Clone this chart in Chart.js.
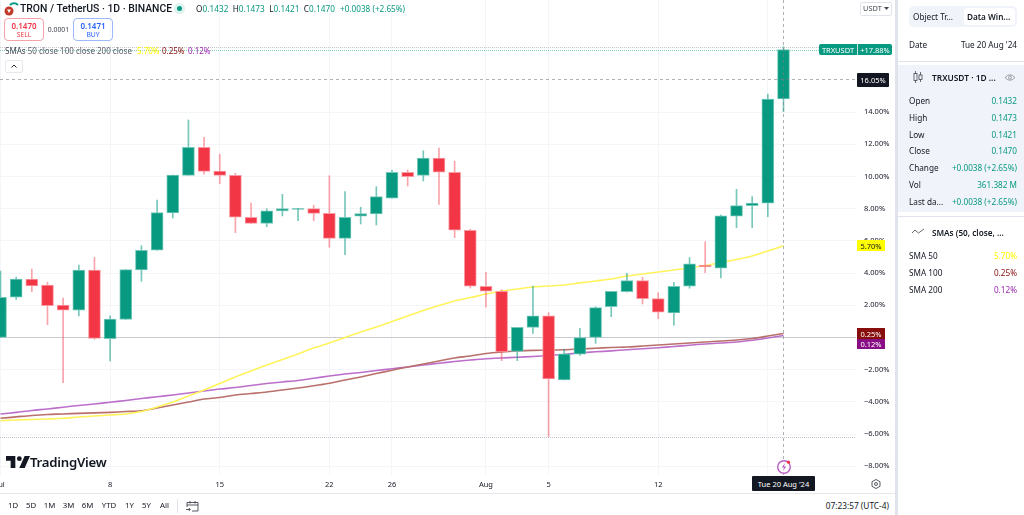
<!DOCTYPE html>
<html><head><meta charset="utf-8">
<script src="https://cdn.jsdelivr.net/npm/chart.js@4"></script>
<style>
html,body{margin:0;padding:0;background:#fff;width:1024px;height:515px;overflow:hidden;font-family:"Noto Sans",Roboto,sans-serif;color:#131722}
#wrap{position:absolute;left:0;top:0;width:896px;height:493px}
canvas{display:block}
.t{position:absolute;white-space:nowrap;transform:translateY(-50%);line-height:1}
.r{transform:translate(-100%,-50%)}
.c{transform:translate(-50%,-50%)}
.b{position:absolute;box-sizing:border-box}
.tag{position:absolute;box-sizing:border-box;font-size:7.5px;display:flex;align-items:center;justify-content:center}
svg{position:absolute;overflow:visible}
.g{color:#089981}
</style></head><body>
<div id="wrap"><canvas id="c" width="896" height="493"></canvas></div>

<!-- header -->
<svg style="left:4px;top:2px" width="16" height="16"><path d="M6 3a5.500 5.500 0 0 1 8 0" fill="none" stroke="#089981" stroke-width="2"/><circle cx="5" cy="9" r="4.500" fill="#c23b2a"/><path d="M3 7.500h4l-2 3.500z" fill="#fff"/></svg>
<div class="t" style="left:20px;top:8.500px;font-family:Roboto;font-size:10.400px;font-weight:500">TRON / TetherUS · 1D · BINANCE</div>
<div class="b" style="left:174px;top:3px;width:11px;height:11px;border-radius:50%;background:#dff3ef"></div>
<div class="b" style="left:177px;top:6px;width:5px;height:5px;border-radius:50%;background:#089981"></div>
<div class="t" style="left:196px;top:8.500px;font-size:8.200px;letter-spacing:.05px">O<span class="g">0.1432</span> &nbsp;H<span class="g">0.1473</span> &nbsp;L<span class="g">0.1421</span> &nbsp;C<span class="g">0.1470</span></div>
<div class="t g" style="left:340px;top:8.500px;font-size:8.200px">+0.0038 (+2.65%)</div>

<div class="b" style="left:4px;top:18px;width:40px;height:23px;border:1px solid #f7a1a8;border-radius:4px"></div>
<div class="t c" style="left:24px;top:25.500px;font-size:8px;font-weight:600;color:#f23645">0.1470</div>
<div class="t c" style="left:24px;top:34.500px;font-size:6.800px;color:#f23645">SELL</div>
<div class="t c" style="left:58.500px;top:29.500px;font-size:6.800px;color:#434651">0.0001</div>
<div class="b" style="left:73px;top:18px;width:40px;height:23px;border:1px solid #9db8fb;border-radius:4px"></div>
<div class="t c" style="left:93px;top:25.500px;font-size:8px;font-weight:600;color:#2962ff">0.1471</div>
<div class="t c" style="left:93px;top:34.500px;font-size:6.800px;color:#2962ff">BUY</div>

<div class="t" style="left:5px;top:50.500px;font-size:8px;color:#5d606b"><span style="color:#434651">SMAs</span> 50 close 100 close 200 close</div>
<div class="t" style="left:137px;top:50.500px;font-size:8px;color:#ffff00">5.70%</div>
<div class="t" style="left:162px;top:50.500px;font-size:8px;color:#880e0e">0.25%</div>
<div class="t" style="left:188px;top:50.500px;font-size:8px;color:#9c27b0">0.12%</div>
<div class="b" style="left:5px;top:60px;width:18px;height:13px;border:1px solid #e6e8ee;border-radius:2px;background:#fff"></div>
<svg style="left:11px;top:64px" width="6" height="4"><path d="M.5 3.500L3 1l2.500 2.500" fill="none" stroke="#131722" stroke-width=".9"/></svg>

<div class="b" style="left:860px;top:2px;width:32px;height:14px;border:1px solid #e0e3eb;border-radius:2px"></div>
<div class="t" style="left:863px;top:9px;font-size:7.400px;color:#434651">USDT</div>
<svg style="left:884px;top:7px" width="5" height="4"><path d="M0 0h5L2.500 3z" fill="#434651"/></svg>

<!-- logo -->
<svg style="left:6px;top:456px" width="24" height="12" viewBox="0 0 36 18"><path d="M14 18H7V7H0V0h14zM28 18h-8l8-18h8z" fill="#131722"/><circle cx="20" cy="4" r="3.600" fill="#131722"/></svg>
<div class="t" style="left:30px;top:462.500px;font-size:13.200px;font-weight:600;letter-spacing:-.25px">TradingView</div>

<!-- price tags -->
<div class="tag" style="left:819px;top:44px;width:38px;height:11px;background:#089981;color:#fff;border-radius:2px 0 0 2px">TRXUSDT</div>
<div class="tag" style="left:857px;top:44px;width:35px;height:11px;background:#089981;color:#fff;border-radius:0 2px 2px 0;border-left:1px solid #bfe5dd">+17.88%</div>
<div class="tag" style="left:857px;top:73px;width:32px;height:14px;background:#131722;color:#fff;border-radius:1px">16.05%</div>
<div class="tag" style="left:857px;top:240px;width:28px;height:11px;background:#ffff00;color:#131722">5.70%</div>
<div class="tag" style="left:857px;top:328px;width:28px;height:11px;background:#880e0e;color:#fff">0.25%</div>
<div class="tag" style="left:857px;top:339px;width:28px;height:10px;background:#880e86;color:#fff">0.12%</div>
<div class="tag" style="left:752px;top:476px;width:63px;height:15px;background:#131722;color:#fff;border-radius:1px">Tue 20 Aug '24</div>

<svg style="left:776px;top:459px" width="16" height="16"><circle cx="8" cy="8" r="6.300" fill="#fff" stroke="#b85cc8" stroke-width="1.400"/><path d="M9 4L5.800 8.500h2.200L7 12l3.200-4.500H8z" fill="#b85cc8"/><circle cx="12.500" cy="3.200" r="1.600" fill="#f23645"/></svg>
<svg style="left:871px;top:479px" width="10" height="10"><path d="M5 .5L9 2.700v4.600L5 9.500 1 7.300V2.700z" fill="none" stroke="#434651" stroke-width=".9"/><circle cx="5" cy="5" r="1.500" fill="none" stroke="#434651" stroke-width=".9"/></svg>

<!-- bottom bar -->
<div class="b" style="left:0;top:493px;width:896px;height:1px;background:#e6e8ee"></div>
<div class="t c" style="left:13px;top:506px;font-size:7.800px;color:#131722">1D</div>
<div class="t c" style="left:31px;top:506px;font-size:7.800px">5D</div>
<div class="t c" style="left:49.500px;top:506px;font-size:7.800px">1M</div>
<div class="t c" style="left:68.500px;top:506px;font-size:7.800px">3M</div>
<div class="t c" style="left:87.500px;top:506px;font-size:7.800px">6M</div>
<div class="t c" style="left:109px;top:506px;font-size:7.800px">YTD</div>
<div class="t c" style="left:129.500px;top:506px;font-size:7.800px">1Y</div>
<div class="t c" style="left:146.500px;top:506px;font-size:7.800px">5Y</div>
<div class="t c" style="left:164.500px;top:506px;font-size:7.800px">All</div>
<div class="b" style="left:177px;top:499px;width:1px;height:14px;background:#e0e3eb"></div>
<svg style="left:186px;top:500px" width="13" height="12"><path d="M1 7V2.500h11V11H6M1 5h11M4 1v2.500M9 1v2.500M0 9.500h4M2.800 8l1.500 1.500L2.800 11" fill="none" stroke="#434651" stroke-width=".9"/></svg>
<div class="t r" style="left:889px;top:506px;font-size:8.300px;color:#131722">07:23:57 (UTC-4)</div>

<!-- right panel -->
<div class="b" style="left:895px;top:0;width:3px;height:515px;background:#e0e3eb"></div>
<div class="b" style="left:909px;top:6px;width:108px;height:21px;background:#f0f3fa;border-radius:5px"></div>
<div class="b" style="left:964px;top:8px;width:51px;height:17px;background:#fff;border-radius:4px"></div>
<div class="t" style="left:913px;top:16.500px;font-size:8.200px">Object Tr...</div>
<div class="t" style="left:967px;top:16.500px;font-size:8.200px;font-weight:600">Data Win...</div>
<div class="t" style="left:909px;top:45px;font-size:8.200px">Date</div>
<div class="t r" style="left:1017px;top:45px;font-size:8.200px">Tue 20 Aug '24</div>
<div class="b" style="left:898px;top:61px;width:126px;height:1px;background:#e0e3eb"></div>
<div class="b" style="left:898px;top:65px;width:126px;height:147px;background:#f0f3fa"></div>
<svg style="left:913px;top:71px" width="10" height="12"><path d="M2.500 0v12M7.500 1v10" stroke="#434651" stroke-width=".8"/><rect x="1" y="2.500" width="3" height="7" fill="#f0f3fa" stroke="#434651" stroke-width=".8"/><rect x="6" y="4" width="3" height="4.500" fill="#f0f3fa" stroke="#434651" stroke-width=".8"/></svg>
<div class="t" style="left:932px;top:77.500px;font-size:8.400px;font-weight:600">TRXUSDT · 1D ...</div>
<svg style="left:1005px;top:74px" width="10" height="7"><path d="M0 3.500Q5 -2 10 3.500Q5 9 0 3.500z" fill="none" stroke="#787b86" stroke-width=".7"/><circle cx="5" cy="3.500" r="1.500" fill="none" stroke="#787b86" stroke-width=".7"/></svg>
<div class="t" style="left:909px;top:100.500px;font-size:8.200px">Open</div><div class="t r g" style="left:1017px;top:100.500px;font-size:8.200px">0.1432</div>
<div class="t" style="left:909px;top:117.500px;font-size:8.200px">High</div><div class="t r g" style="left:1017px;top:117.500px;font-size:8.200px">0.1473</div>
<div class="t" style="left:909px;top:134.500px;font-size:8.200px">Low</div><div class="t r g" style="left:1017px;top:134.500px;font-size:8.200px">0.1421</div>
<div class="t" style="left:909px;top:151px;font-size:8.200px">Close</div><div class="t r g" style="left:1017px;top:151px;font-size:8.200px">0.1470</div>
<div class="t" style="left:909px;top:168px;font-size:8.200px">Change</div><div class="t r g" style="left:1017px;top:168px;font-size:8.200px">+0.0038 (+2.65%)</div>
<div class="t" style="left:909px;top:184.500px;font-size:8.200px">Vol</div><div class="t r g" style="left:1017px;top:184.500px;font-size:8.200px">361.382 M</div>
<div class="t" style="left:909px;top:201.500px;font-size:8.200px">Last da...</div><div class="t r g" style="left:1017px;top:201.500px;font-size:8.200px">+0.0038 (+2.65%)</div>
<div class="b" style="left:898px;top:216px;width:126px;height:1px;background:#e0e3eb"></div>
<svg style="left:912px;top:228px" width="12" height="7"><path d="M0 5L3 2l3.500 3L12 1" fill="none" stroke="#434651" stroke-width=".8"/></svg>
<div class="t" style="left:932px;top:233px;font-size:8.200px;font-weight:600">SMAs (50, close, ...</div>
<div class="t" style="left:909px;top:256px;font-size:8.200px">SMA 50</div><div class="t r" style="left:1017px;top:256px;font-size:8.200px;color:#ffff00">5.70%</div>
<div class="t" style="left:909px;top:273px;font-size:8.200px">SMA 100</div><div class="t r" style="left:1017px;top:273px;font-size:8.200px;color:#880e0e">0.25%</div>
<div class="t" style="left:909px;top:289.500px;font-size:8.200px">SMA 200</div><div class="t r" style="left:1017px;top:289.500px;font-size:8.200px;color:#9c27b0">0.12%</div>

<script>
// Percent change values; day 0 is 1 Jul 2024, day 50 is 20 Aug 2024.
const opens =[0.01,2.50,3.62,3.25,2.01,1.70,4.19,-0.07,1.12,4.19,5.42,7.73,10.07,11.81,10.34,10.07,7.47,7.09,7.86,7.96,8.00,7.71,6.16,7.53,7.67,8.65,10.26,10.07,11.15,10.26,6.66,3.18,2.87,-0.86,0.63,1.34,-2.64,-1.04,0.01,1.91,2.84,3.53,2.41,1.52,3.18,4.50,4.30,7.53,8.19,8.34,14.81];
const highs =[4.12,3.75,4.25,3.43,2.44,4.50,4.97,1.34,4.21,5.70,8.54,10.09,13.51,12.43,11.38,10.20,8.34,8.00,8.89,8.01,8.21,10.05,9.06,8.09,9.37,10.40,10.40,11.60,11.77,10.96,6.72,4.05,2.97,0.63,3.20,1.54,-0.73,0.57,1.91,2.87,3.99,3.74,2.78,3.43,4.96,5.95,7.61,9.20,8.75,15.12,18.06];
const lows  =[0.01,2.37,2.85,0.79,-2.81,1.34,-0.11,-1.46,1.12,3.49,5.42,7.42,10.07,10.14,9.55,6.51,7.09,6.88,7.55,7.25,7.25,5.60,5.14,7.05,6.99,8.65,9.41,9.72,8.27,6.20,3.07,1.88,-1.44,-1.44,0.26,-6.16,-2.64,-1.11,-0.36,1.29,2.81,2.08,1.17,0.76,3.06,4.02,3.70,6.82,6.82,7.50,14.02];
const closes=[2.50,3.62,3.20,1.98,1.70,4.19,-0.05,1.14,4.21,5.42,7.75,10.09,11.81,10.32,10.07,7.47,7.09,7.86,8.00,8.01,7.71,6.16,7.47,7.69,8.75,10.26,9.99,11.15,10.26,6.66,3.18,2.87,-0.90,0.63,1.34,-2.58,-1.02,-0.01,1.85,2.87,3.53,2.41,1.58,3.18,4.57,4.38,7.55,8.19,8.35,14.81,17.88];
const sma50 =[-5.17,-5.12,-5.09,-5.06,-5.02,-4.94,-4.88,-4.81,-4.75,-4.60,-4.32,-4.01,-3.63,-3.26,-2.86,-2.45,-2.08,-1.71,-1.37,-1.02,-0.65,-0.34,0,0.34,0.65,0.99,1.34,1.68,1.99,2.27,2.48,2.70,2.89,3.01,3.14,3.20,3.26,3.39,3.51,3.63,3.82,3.94,4.07,4.19,4.32,4.47,4.66,4.84,5.06,5.37,5.70];
const sma100=[-5.02,-4.93,-4.84,-4.78,-4.75,-4.71,-4.68,-4.65,-4.60,-4.55,-4.38,-4.19,-4.01,-3.82,-3.73,-3.57,-3.48,-3.39,-3.26,-3.14,-3.00,-2.84,-2.64,-2.45,-2.24,-2.03,-1.83,-1.65,-1.46,-1.27,-1.15,-0.99,-0.90,-0.84,-0.80,-0.78,-0.76,-0.71,-0.67,-0.62,-0.59,-0.53,-0.47,-0.40,-0.34,-0.28,-0.22,-0.16,-0.06,0.09,0.25];
const sma200=[-4.75,-4.65,-4.53,-4.44,-4.33,-4.22,-4.13,-4.02,-3.91,-3.79,-3.68,-3.57,-3.45,-3.32,-3.20,-3.11,-2.98,-2.86,-2.76,-2.67,-2.53,-2.39,-2.27,-2.17,-2.05,-1.94,-1.83,-1.71,-1.60,-1.49,-1.40,-1.32,-1.27,-1.23,-1.18,-1.11,-1.06,-0.95,-0.89,-0.83,-0.76,-0.70,-0.64,-0.56,-0.48,-0.40,-0.34,-0.28,-0.17,-0.03,0.12];
const dayTicks =[0,7,14,21,25,31,35,42,49];
const dayLabels=['Jul','8','15','22','26','Aug','5','12','19'];
const pctTicks =[-8,-6,-4,-2,0,2,4,6,8,10,12,14];
const crossDay=50, crossPct=16.05, lastPct=17.88, highPct=18.06, lowPct=-6.18;

const GREEN='#089981',RED='#f23645';
const up=closes.map((c,i)=>c>=opens[i]);
const pct=v=>(v<0?'\u2212':'')+Math.abs(v).toFixed(2)+'%';

const overlay={id:'overlay',
 beforeDatasetsDraw(ch){
  const {ctx,chartArea:a,scales:{y}}=ch;
  ctx.save();
  ctx.strokeStyle='#c9cbd1';ctx.lineWidth=1;
  const z=Math.round(y.getPixelForValue(0))+.5;
  ctx.beginPath();ctx.moveTo(a.left,z);ctx.lineTo(a.right,z);ctx.stroke();
  ctx.setLineDash([1,1]);
  [[highPct,'#c4c6cc'],[lastPct,'#7fcfc0'],[lowPct,'#c4c6cc']].forEach(([v,col])=>{
    const p=Math.round(y.getPixelForValue(v))+.5;
    ctx.strokeStyle=col;ctx.beginPath();ctx.moveTo(a.left,p);ctx.lineTo(a.right,p);ctx.stroke();
  });
  ctx.restore();
 },
 afterDatasetsDraw(ch){
  const {ctx,chartArea:a,scales:{x,y}}=ch;
  ctx.save();
  ctx.strokeStyle='rgba(120,123,134,.6)';ctx.lineWidth=1;ctx.setLineDash([3,3]);
  const px=Math.round(x.getPixelForValue(crossDay))+.5, py=Math.round(y.getPixelForValue(crossPct))+.5;
  ctx.beginPath();ctx.moveTo(px,a.top);ctx.lineTo(px,a.bottom);ctx.moveTo(a.left,py);ctx.lineTo(a.right,py);ctx.stroke();
  ctx.restore();
 }
};
const line=(data,col,ord)=>({type:'line',data:data.map((v,i)=>({x:i,y:v})),borderColor:col,borderWidth:1.6,pointRadius:0,tension:0.3,order:ord});

new Chart(document.getElementById('c'),{
 type:'bar',
 plugins:[overlay],
 data:{datasets:[
  {data:opens.map((o,i)=>({x:i,y:[o,closes[i]]})),grouped:false,barThickness:12,order:1,borderSkipped:false,borderWidth:1,
   backgroundColor:up.map(u=>u?GREEN:RED),borderColor:up.map(u=>u?'#74c9ba':'#f99aa2')},
  {data:lows.map((l,i)=>({x:i,y:[l,highs[i]]})),grouped:false,barThickness:1,order:2,
   backgroundColor:up.map(u=>u?'rgba(8,153,129,.55)':'rgba(242,54,69,.45)')},
  line(sma50,'#fff35c',3),line(sma100,'#b9706c',4),line(sma200,'#bb6fca',5)
 ]},
 options:{responsive:false,animation:false,devicePixelRatio:1,
  layout:{padding:0},
  plugins:{legend:{display:false},tooltip:{enabled:false}},
  scales:{
   x:{type:'linear',offset:false,min:-0.032,max:54.63,
      grid:{color:'#f4f5f8',offset:false,drawTicks:false},border:{display:false},
      afterBuildTicks(s){s.ticks=dayTicks.map(v=>({value:v}));},
      afterFit(s){s.height=18;s.paddingLeft=0;s.paddingRight=0;},
      ticks:{autoSkip:false,maxRotation:0,minRotation:0,padding:5,color:'#131722',font:{family:'"Noto Sans"',size:7.5},
             callback(v){const k=dayTicks.indexOf(v);return k<0?'':dayLabels[k];}}},
   y:{position:'right',min:-8.54,max:20.96,
      grid:{color:'#f4f5f8',drawTicks:false},border:{display:false},
      afterBuildTicks(s){s.ticks=pctTicks.map(v=>({value:v}));},
      afterFit(s){s.width=40;s.paddingTop=0;s.paddingBottom=0;},
      ticks:{padding:8,color:'#131722',font:{family:'"Noto Sans"',size:7.5},callback:v=>pct(v)}}
  }
 }
});
</script>
</body></html>
